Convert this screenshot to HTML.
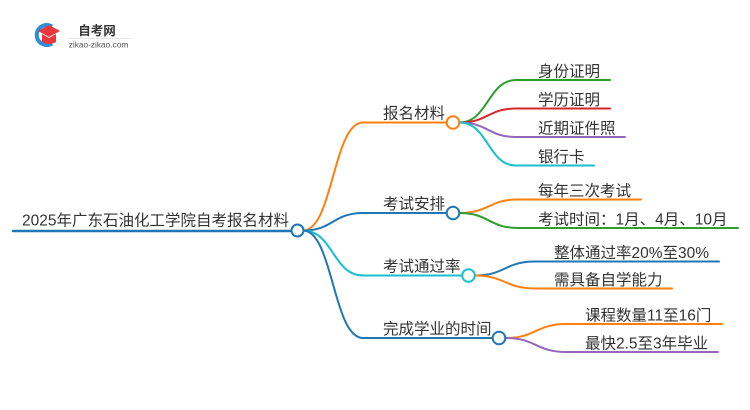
<!DOCTYPE html>
<html>
<head>
<meta charset="utf-8">
<style>
  html,body{margin:0;padding:0;background:#fff;}
  svg{display:block;}
  text{font-family:"Liberation Sans","Noto Sans CJK SC",sans-serif;fill:#333;}
</style>
</head>
<body>
<svg width="750" height="410" viewBox="0 0 750 410" xmlns="http://www.w3.org/2000/svg">
  <!-- logo -->
  <path d="M52 26.5 A10 10 0 1 0 52 43.5" fill="none" stroke="#2a8fd8" stroke-width="4"/>
  <path d="M38 31 L49 25 L60 31 L49 37 Z" fill="#e8383d"/>
  <path d="M42 34 L42 42 Q49 46 56 42 L56 34 L49 38 Z" fill="#e8383d"/>
  <text x="97" y="35" font-size="12.5" font-weight="bold" text-anchor="middle" style="fill:#333">自考网</text>
  <line x1="68" y1="38.5" x2="131" y2="38.5" stroke="#ddd" stroke-width="0.8"/>
  <text x="98.5" y="47.5" font-size="8.3" text-anchor="middle" style="fill:#555">zikao-zikao.com</text>

  <g fill="none" stroke-width="2" stroke-linecap="round">
    <!-- root line -->
    <line x1="13" y1="231" x2="291" y2="231" stroke="#1f77b4" stroke-width="2.5"/>
    <!-- root to branches -->
    <path d="M303 230.5 C333 230.5 333 122.5 363 122.5 L446.5 122.5" stroke="#ff7f0e"/>
    <path d="M303 230.5 C333 230.5 333 213 363 213 L446.5 213" stroke="#1f77b4"/>
    <path d="M303 230.5 C333 230.5 333 275.5 363 275.5 L462 275.5" stroke="#17becf"/>
    <path d="M303 230.5 C333 230.5 333 338 363 338 L492.5 338" stroke="#1f77b4"/>

    <!-- B1 children -->
    <path d="M459.5 122.5 C488 122.5 488 80 516 80 L610 80" stroke="#2ca02c"/>
    <path d="M459.5 122.5 C488 122.5 488 108.5 516 108.5 L610 108.5" stroke="#d62728"/>
    <path d="M459.5 122.5 C488 122.5 488 137 516 137 L625 137" stroke="#9467bd"/>
    <path d="M459.5 122.5 C488 122.5 488 165.5 516 165.5 L594 165.5" stroke="#17becf"/>

    <!-- B2 children -->
    <path d="M459.5 213 C489 213 489 199.5 518 199.5 L641 199.5" stroke="#ff7f0e"/>
    <path d="M459.5 213 C489 213 489 228 518 228 L738 228" stroke="#2ca02c"/>

    <!-- B3 children -->
    <path d="M475 275.5 C505 275.5 505 261.5 535 261.5 L719 261.5" stroke="#1f77b4"/>
    <path d="M475 275.5 C505 275.5 505 288.5 535 288.5 L672 288.5" stroke="#ff7f0e"/>

    <!-- B4 children -->
    <path d="M505.5 338 C536 338 536 324 566 324 L722 324" stroke="#ff7f0e"/>
    <path d="M505.5 338 C536 338 536 352 566 352 L718 352" stroke="#9467bd"/>
  </g>

  <!-- circles -->
  <g fill="#fff" stroke-width="2">
    <circle cx="297.5" cy="230.5" r="6" stroke="#1f77b4"/>
    <circle cx="453" cy="122.5" r="6.3" stroke="#ff7f0e"/>
    <circle cx="453" cy="213" r="6.3" stroke="#1f77b4"/>
    <circle cx="468.5" cy="275.5" r="6.3" stroke="#17becf"/>
    <circle cx="499" cy="338" r="6.3" stroke="#1f77b4"/>
  </g>

  <!-- texts -->
  <g font-size="15.5">
    <text x="22" y="225.5">2025年广东石油化工学院自考报名材料</text>

    <text x="383" y="118.5">报名材料</text>
    <text x="383" y="209">考试安排</text>
    <text x="383" y="271.5">考试通过率</text>
    <text x="383" y="334">完成学业的时间</text>

    <text x="538" y="76.5">身份证明</text>
    <text x="538" y="105">学历证明</text>
    <text x="538" y="133.5">近期证件照</text>
    <text x="538" y="162">银行卡</text>

    <text x="538" y="196">每年三次考试</text>
    <text x="538" y="224.5">考试时间：1月、4月、10月</text>

    <text x="554" y="258">整体通过率20%至30%</text>
    <text x="554" y="285">需具备自学能力</text>

    <text x="585" y="320.5">课程数量11至16门</text>
    <text x="585" y="348.5">最快2.5至3年毕业</text>
  </g>
</svg>
</body>
</html>
